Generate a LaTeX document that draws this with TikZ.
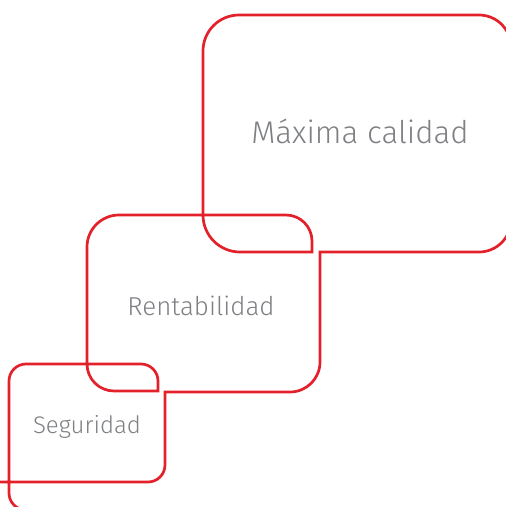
\documentclass[tikz,border=0pt]{standalone}
\usepackage{fontspec}
\newfontfamily\labelfont{Fira Sans}[UprightFont=* Light]
\definecolor{frame red}{HTML}{E3212B}
\definecolor{label grey}{HTML}{7E8084}

\begin{document}
\begin{tikzpicture}[x=1pt,y=-1pt,
    frame/.style={draw=frame red,line width=2.7pt},
    label/.style={font=\labelfont,text=label grey,inner sep=0pt,anchor=base},
    big label/.style={label,font=\labelfont\fontsize{31.3}{38}\selectfont},
    small label/.style={label,font=\labelfont\fontsize{25.9}{31}\selectfont}]
    \useasboundingbox (0,0) rectangle (506,507);
    \clip (0,0) rectangle (506,507);

    % one red outline running through the three boxes
    \draw[frame]
        (40,510) [rounded corners=17pt] -- (9,510) -- (9,364) -- (158,364)
        [sharp corners] -- (158,391) [rounded corners=27pt] -- (87,391)
        [rounded corners=32pt] -- (87,215) [rounded corners=26pt] -- (312,215)
        [sharp corners] -- (312,252) [rounded corners=37pt] -- (203,252)
        [rounded corners=36pt] -- (203,15) [rounded corners=32pt] -- (511,15) -- (511,252)
        [sharp corners] -- (320,252) [rounded corners=30pt] -- (320,392)
        [sharp corners] -- (165,392) [rounded corners=17pt] -- (165,482) -- (-5,482);

    \node[big label] (quality) at (360,143) {Máxima calidad};
    \node[small label] (profit) at (201,315) {Rentabilidad};
    \node[small label,font=\labelfont\fontsize{24}{29}\selectfont] (safety) at (87,433) {Seguridad};
\end{tikzpicture}
\end{document}
